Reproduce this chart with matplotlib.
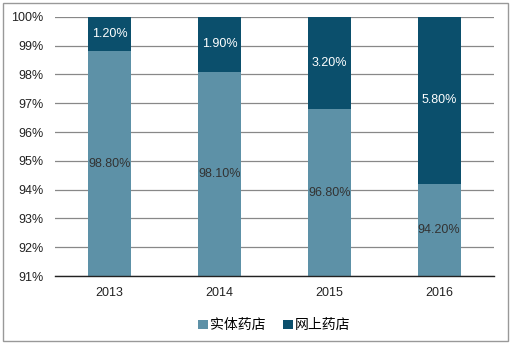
import matplotlib
matplotlib.use("Agg")
import matplotlib.pyplot as plt
from matplotlib.patches import Rectangle
from matplotlib.ticker import FuncFormatter

plt.rcParams["font.family"] = ["Noto Sans CJK SC", "DejaVu Sans"]

years = ["2013", "2014", "2015", "2016"]
offline = [98.80, 98.10, 96.80, 94.20]   # 实体药店
online = [1.20, 1.90, 3.20, 5.80]        # 网上药店
series_names = ["实体药店", "网上药店"]

c_off = "#5d91a7"
c_on = "#0b4f6c"
ymin, ymax = 91, 100
num_font = "Liberation Sans"

fig = plt.figure(figsize=(5.12, 3.45), dpi=100)
ax = fig.add_axes([0.107, 0.2, 0.858, 0.751])

x = range(len(years))
w = 0.39
ax.bar(x, offline, width=w, color=c_off, label=series_names[0], zorder=2)
ax.bar(x, online, width=w, bottom=offline, color=c_on, label=series_names[1], zorder=2)

for i in x:
    lo = (ymin + offline[i]) / 2
    hi = offline[i] + online[i] / 2
    ax.text(i, lo, f"{offline[i]:.2f}%", ha="center", va="center",
            fontsize=9, color="#333333", family=num_font, zorder=3)
    ax.text(i, hi, f"{online[i]:.2f}%", ha="center", va="center",
            fontsize=9, color="white", family=num_font, zorder=3)

ax.set_ylim(ymin, ymax)
ax.set_xlim(-0.5, 3.5)
ax.set_yticks(range(ymin, ymax + 1))
ax.yaxis.set_major_formatter(FuncFormatter(lambda v, _: f"{v:.0f}%"))
ax.set_xticks(list(x))
ax.set_xticklabels(years)
ax.tick_params(length=0, labelsize=9, colors="#222222", pad=8)
for lab in ax.get_xticklabels() + ax.get_yticklabels():
    lab.set_family(num_font)
ax.grid(axis="y", color="#888888", linewidth=0.9, zorder=0)
for side in ("left", "right", "top"):
    ax.spines[side].set_visible(False)
ax.spines["bottom"].set_color("#222222")
ax.spines["bottom"].set_linewidth(1.0)

ax.legend(loc="upper center", bbox_to_anchor=(0.5, -0.115), ncol=2, frameon=False,
          fontsize=10, handlelength=0.7, handleheight=0.7, handletextpad=0.15,
          columnspacing=1.3)

# light frame around the whole chart
fig.patches.append(Rectangle((0.005, 0.012), 0.988, 0.978, transform=fig.transFigure,
                             fill=False, edgecolor="#999999", linewidth=1.0))

fig.savefig("out.png", dpi=100)
